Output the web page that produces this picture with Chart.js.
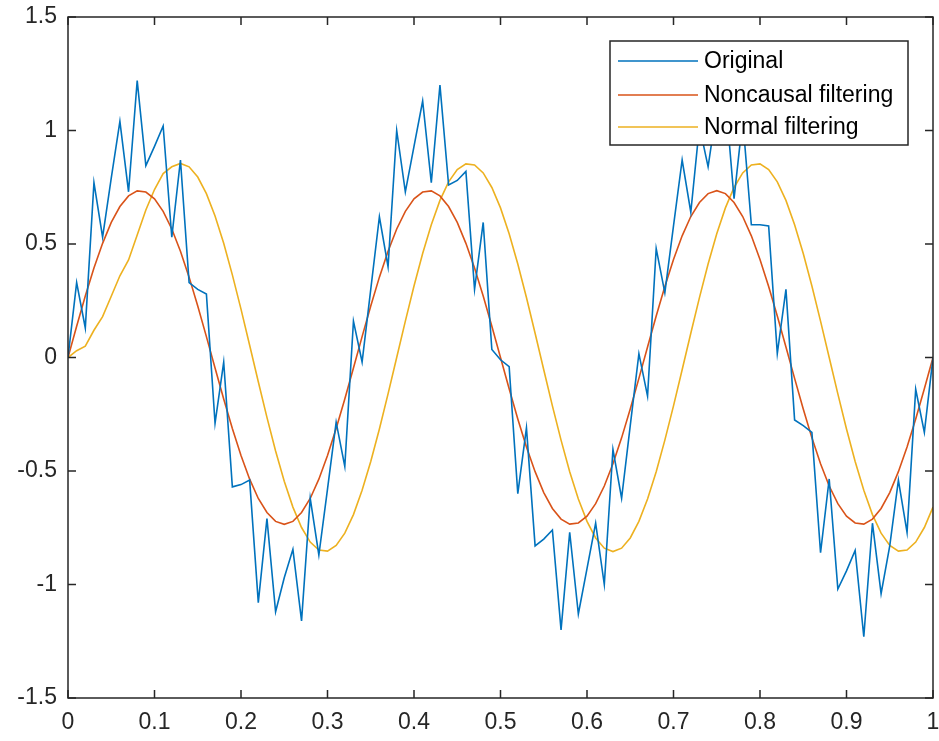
<!DOCTYPE html>
<html>
<head>
<meta charset="utf-8">
<script src="https://cdn.jsdelivr.net/npm/chart.js@4.4.0/dist/chart.umd.min.js"></script>
<style>
  body { margin: 0; background: #fff; }
  #wrap { width: 939px; height: 741px; }
</style>
</head>
<body>
<div id="wrap"><canvas id="myLineChart" width="939" height="741"></canvas></div>
<script>
// time axis 0..1, step 0.01
const tValues = [0,0.01,0.02,0.03,0.04,0.05,0.06,0.07,0.08,0.09,0.1,0.11,0.12,0.13,0.14,0.15,0.16,0.17,0.18,0.19,0.2,0.21,0.22,0.23,0.24,0.25,0.26,0.27,0.28,0.29,0.3,0.31,0.32,0.33,0.34,0.35,0.36,0.37,0.38,0.39,0.4,0.41,0.42,0.43,0.44,0.45,0.46,0.47,0.48,0.49,0.5,0.51,0.52,0.53,0.54,0.55,0.56,0.57,0.58,0.59,0.6,0.61,0.62,0.63,0.64,0.65,0.66,0.67,0.68,0.69,0.7,0.71,0.72,0.73,0.74,0.75,0.76,0.77,0.78,0.79,0.8,0.81,0.82,0.83,0.84,0.85,0.86,0.87,0.88,0.89,0.9,0.91,0.92,0.93,0.94,0.95,0.96,0.97,0.98,0.99,1];

const original = [0,0.33,0.13,0.77,0.53,0.79,1.04,0.73,1.22,0.845,0.93,1.02,0.53,0.87,0.33,0.30,0.28,-0.29,-0.02,-0.57,-0.56,-0.54,-1.08,-0.71,-1.12,-0.97,-0.845,-1.16,-0.62,-0.87,-0.58,-0.285,-0.48,0.16,-0.02,0.30,0.62,0.40,1.0,0.73,0.93,1.13,0.77,1.2,0.76,0.78,0.82,0.30,0.595,0.035,-0.01,-0.04,-0.60,-0.31,-0.83,-0.80,-0.76,-1.20,-0.77,-1.13,-0.93,-0.73,-1.0,-0.405,-0.62,-0.30,0.017,-0.17,0.48,0.285,0.58,0.87,0.64,1.02,0.84,1.1,1.15,0.70,1.05,0.585,0.585,0.58,0.017,0.30,-0.275,-0.30,-0.33,-0.86,-0.535,-1.02,-0.94,-0.85,-1.23,-0.73,-1.04,-0.83,-0.54,-0.77,-0.14,-0.33,0];

const noncausal = [0,0.138,0.271,0.394,0.503,0.595,0.665,0.712,0.734,0.729,0.699,0.644,0.566,0.468,0.354,0.227,0.092,-0.046,-0.183,-0.313,-0.432,-0.536,-0.621,-0.683,-0.722,-0.735,-0.722,-0.683,-0.621,-0.536,-0.432,-0.313,-0.183,-0.046,0.092,0.227,0.354,0.468,0.566,0.644,0.699,0.729,0.734,0.712,0.665,0.595,0.503,0.394,0.271,0.138,0,-0.138,-0.271,-0.394,-0.503,-0.595,-0.665,-0.712,-0.734,-0.729,-0.699,-0.644,-0.566,-0.468,-0.354,-0.227,-0.092,0.046,0.183,0.313,0.432,0.536,0.621,0.683,0.722,0.735,0.722,0.683,0.621,0.536,0.432,0.313,0.183,0.046,-0.092,-0.227,-0.354,-0.468,-0.566,-0.644,-0.699,-0.729,-0.734,-0.712,-0.665,-0.595,-0.503,-0.394,-0.271,-0.138,0];

const normal = [0,0.03,0.05,0.12,0.18,0.27,0.36,0.43,0.54,0.65,0.74,0.81,0.84,0.855,0.84,0.795,0.722,0.623,0.503,0.364,0.213,0.054,-0.107,-0.264,-0.412,-0.545,-0.659,-0.749,-0.813,-0.848,-0.853,-0.828,-0.774,-0.692,-0.585,-0.458,-0.315,-0.16,0,0.16,0.315,0.458,0.585,0.692,0.774,0.828,0.853,0.848,0.813,0.749,0.659,0.545,0.412,0.264,0.107,-0.054,-0.213,-0.364,-0.503,-0.623,-0.722,-0.795,-0.84,-0.855,-0.84,-0.795,-0.722,-0.623,-0.503,-0.364,-0.213,-0.054,0.107,0.264,0.412,0.545,0.659,0.749,0.813,0.848,0.853,0.828,0.774,0.692,0.585,0.458,0.315,0.16,0,-0.16,-0.315,-0.458,-0.585,-0.692,-0.774,-0.828,-0.853,-0.848,-0.813,-0.749,-0.659];

const seriesNames = ['Original', 'Noncausal filtering', 'Normal filtering'];
const seriesColors = ['#0072BD', '#D95319', '#EDB120'];

const xTicks = [0,0.1,0.2,0.3,0.4,0.5,0.6,0.7,0.8,0.9,1];
const xTickLabels = ['0','0.1','0.2','0.3','0.4','0.5','0.6','0.7','0.8','0.9','1'];
const yTicks = [-1.5,-1,-0.5,0,0.5,1,1.5];
const yTickLabels = ['-1.5','-1','-0.5','0','0.5','1','1.5'];

const axisColor = '#262626';
const tickFont = { family: '"Liberation Sans", Arial, sans-serif', size: 23 };

function toPoints(ys) {
    return tValues.map((t, i) => ({ x: t, y: ys[i] }));
}

// box around the axes with inward tick marks (matlab style)
const boxPlugin = {
    id: 'boxTicks',
    afterDatasetsDraw(chart) {
        const ctx = chart.ctx;
        const a = chart.chartArea;
        const xs = chart.scales.x, ys = chart.scales.y;
        const len = 8;
        ctx.save();
        ctx.strokeStyle = axisColor;
        ctx.lineWidth = 1.5;
        ctx.beginPath();
        xTicks.forEach(v => {
            const px = xs.getPixelForValue(v);
            ctx.moveTo(px, a.bottom); ctx.lineTo(px, a.bottom - len);
            ctx.moveTo(px, a.top); ctx.lineTo(px, a.top + len);
        });
        yTicks.forEach(v => {
            const py = ys.getPixelForValue(v);
            ctx.moveTo(a.left, py); ctx.lineTo(a.left + len, py);
            ctx.moveTo(a.right, py); ctx.lineTo(a.right - len, py);
        });
        ctx.stroke();
        ctx.strokeRect(a.left, a.top, a.right - a.left, a.bottom - a.top);
        ctx.restore();
    }
};

// legend box in the upper right corner of the plot
const legendPlugin = {
    id: 'innerLegend',
    afterDraw(chart) {
        const ctx = chart.ctx;
        const a = chart.chartArea;
        const w = 298, h = 104;
        const x0 = a.right - 25 - w;
        const y0 = a.top + 24;
        ctx.save();
        ctx.fillStyle = '#fff';
        ctx.fillRect(x0, y0, w, h);
        ctx.strokeStyle = axisColor;
        ctx.lineWidth = 1.5;
        ctx.strokeRect(x0, y0, w, h);
        ctx.font = '23px "Liberation Sans", Arial, sans-serif';
        ctx.textBaseline = 'middle';
        const rows = [20, 54, 86];
        seriesNames.forEach((name, i) => {
            const ry = y0 + rows[i];
            ctx.strokeStyle = seriesColors[i];
            ctx.lineWidth = 1.5;
            ctx.beginPath();
            ctx.moveTo(x0 + 8, ry);
            ctx.lineTo(x0 + 88, ry);
            ctx.stroke();
            ctx.fillStyle = '#000';
            ctx.fillText(name, x0 + 94, ry + 1);
        });
        ctx.restore();
    }
};

const ctx = document.getElementById('myLineChart').getContext('2d');
const chart = new Chart(ctx, {
    type: 'line',
    data: {
        datasets: [0, 1, 2].map(i => ({
            label: seriesNames[i],
            data: toPoints([original, noncausal, normal][i]),
            borderColor: seriesColors[i],
            borderWidth: 1.6,
            pointRadius: 0,
            tension: 0,
            fill: false
        }))
    },
    options: {
        responsive: false,
        animation: false,
        layout: { padding: { top: 17, right: 6, left: 0, bottom: 0 } },
        plugins: {
            legend: { display: false },
            tooltip: { enabled: false }
        },
        scales: {
            x: {
                type: 'linear',
                min: 0,
                max: 1,
                afterBuildTicks: s => { s.ticks = xTicks.map(v => ({ value: v })); },
                afterFit: s => { s.height = 43; s.paddingLeft = 0; s.paddingRight = 0; },
                ticks: {
                    callback: (v, i) => xTickLabels[i],
                    font: tickFont,
                    color: axisColor,
                    padding: 11,
                    maxRotation: 0,
                    autoSkip: false
                },
                grid: { display: false, drawTicks: false },
                border: { display: false }
            },
            y: {
                type: 'linear',
                min: -1.5,
                max: 1.5,
                afterBuildTicks: s => { s.ticks = yTicks.map(v => ({ value: v })); },
                afterFit: s => { s.width = 68; s.paddingTop = 0; s.paddingBottom = 0; },
                ticks: {
                    callback: (v, i) => yTickLabels[i],
                    font: tickFont,
                    color: axisColor,
                    padding: 11,
                    autoSkip: false
                },
                grid: { display: false, drawTicks: false },
                border: { display: false }
            }
        }
    },
    plugins: [boxPlugin, legendPlugin]
});
</script>
</body>
</html>
